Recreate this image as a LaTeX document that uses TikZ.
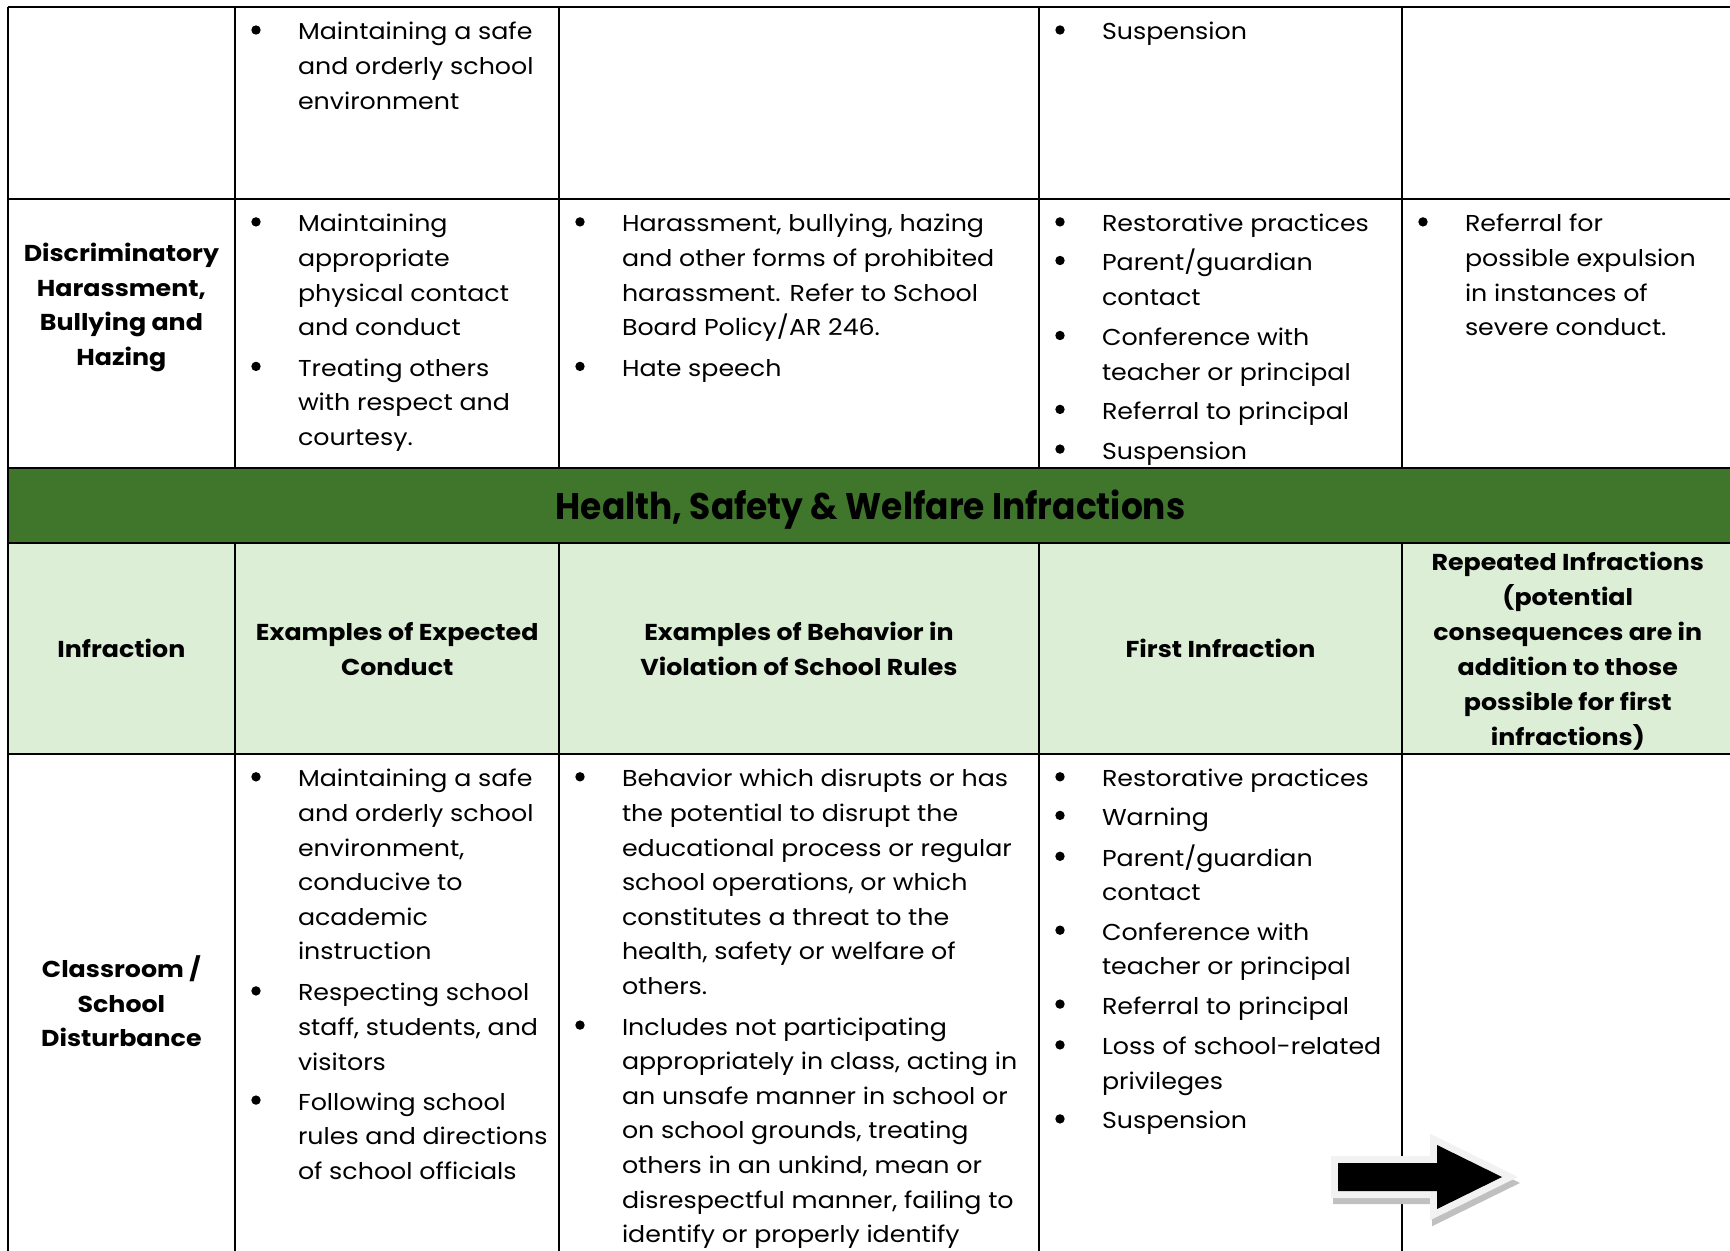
\documentclass[tikz,border=0pt]{standalone}
\usepackage{fontspec}
\setmainfont{Poppins}[FakeStretch=1.1]
\newfontfamily\titlefont{Poppins}[FakeStretch=0.93]
\definecolor{dkgreen}{HTML}{3F762C}
\definecolor{ltgreen}{HTML}{DDEED6}
\definecolor{arrowrim}{HTML}{F2F2F2}
\definecolor{arrowshade}{HTML}{C0C0C0}
\tikzset{
  txt/.style={font=\fontsize{11.5}{17.3}\selectfont, align=left, inner sep=0pt, outer sep=0pt, anchor=north west},
  bld/.style={font=\bfseries\fontsize{11.5}{17.3}\selectfont, align=center, inner sep=0pt, outer sep=0pt, anchor=north},
  hdr/.style={font=\bfseries\fontsize{11.5}{17.5}\selectfont, align=center, inner sep=0pt, outer sep=0pt, anchor=north},
  ttl/.style={font=\titlefont\bfseries\fontsize{18.5}{22}\selectfont, inner sep=0pt, outer sep=0pt, anchor=base},
  gridline/.style={line width=1pt, black},
  heavyline/.style={line width=1.4pt, black},
}
\newcommand{\bitem}[4]{%
  \fill ({#2-42},{#3-10}) circle (4.7);
  \node[txt] (#1) at (#2,{#3-24}) {\rule{0pt}{12pt}#4};}
\begin{document}
\begin{tikzpicture}[x=0.5pt,y=-0.5pt]
\useasboundingbox (0,0) rectangle (1730,1251);
\clip (0,0) rectangle (1730,1251);
\fill[white] (0,0) rectangle (1730,1251);
\fill[dkgreen] (7.7,468) rectangle (1740,543);
\fill[ltgreen] (7.7,543) rectangle (1740,754);
% horizontal lines
\draw[gridline] (7.7,7.5) -- (1740,7.5);
\draw[gridline] (7.7,199) -- (1740,199);
\draw[heavyline] (7.7,468) -- (1740,468);
\draw[heavyline] (7.7,543) -- (1740,543);
\draw[heavyline] (7.7,754) -- (1740,754);
% vertical lines
\draw[gridline] (7.7,7) -- (7.7,1260);
\foreach \cx in {235,559,1039,1402}{
  \draw[gridline] (\cx,7) -- (\cx,468);
  \draw[gridline] (\cx,543) -- (\cx,1260);
}
% row 1
\bitem{r1b}{298}{40}{Maintaining a safe\\and orderly school\\environment}
\bitem{r1d}{1102}{40}{Suspension}
% row 2
\node[bld] (r2a) at (121.4,{261.7-24}) {\rule{0pt}{12pt}Discriminatory\\Harassment,\\Bullying and\\Hazing};
\bitem{r2b1}{298}{231.9}{Maintaining\\appropriate\\physical contact\\and conduct}
\bitem{r2b2}{298}{376.4}{Treating others\\with respect and\\courtesy.}
\bitem{r2c1}{622}{231.9}{Harassment, bullying, hazing\\and other forms of prohibited\\harassment. Refer to School\\Board Policy/AR 246.}
\bitem{r2c2}{622}{376.4}{Hate speech}
\bitem{r2d1}{1102}{231.9}{Restorative practices}
\bitem{r2d2}{1102}{270.5}{Parent/guardian\\contact}
\bitem{r2d3}{1102}{345.5}{Conference with\\teacher or principal}
\bitem{r2d4}{1102}{419.4}{Referral to principal}
\bitem{r2d5}{1102}{459.1}{Suspension}
\bitem{r2e1}{1465}{231.9}{Referral for\\possible expulsion\\in instances of\\severe conduct.}
% green title band
\node[ttl] (title) at (870.5,520) {Health, Safety \& Welfare Infractions};
% header row
\node[hdr] (h1) at (121.4,{657.7-24}) {\rule{0pt}{12pt}Infraction};
\node[hdr] (h2) at (397.2,{640.1-24}) {\rule{0pt}{12pt}Examples of Expected\\Conduct};
\node[hdr] (h3) at (799,{640.1-24}) {\rule{0pt}{12pt}Examples of Behavior in\\Violation of School Rules};
\node[hdr] (h4) at (1220.5,{657.7-24}) {\rule{0pt}{12pt}First Infraction};
\node[hdr] (h5) at (1567.8,{570.6-24}) {\rule{0pt}{12pt}Repeated Infractions\\(potential\\consequences are in\\addition to those\\possible for first\\infractions)};
% row 4
\node[bld] (r4a) at (121.4,{977.7-24}) {\rule{0pt}{12pt}Classroom /\\School\\Disturbance};
\bitem{r4b1}{298}{786.8}{Maintaining a safe\\and orderly school\\environment,\\conducive to\\academic\\instruction}
\bitem{r4b2}{298}{1000.9}{Respecting school\\staff, students, and\\visitors}
\bitem{r4b3}{298}{1110.1}{Following school\\rules and directions\\of school officials}
\bitem{r4c1}{622}{786.8}{Behavior which disrupts or has\\the potential to disrupt the\\educational process or regular\\school operations, or which\\constitutes a threat to the\\health, safety or welfare of\\others.}
\bitem{r4c2}{622}{1035.1}{Includes not participating\\appropriately in class, acting in\\an unsafe manner in school or\\on school grounds, treating\\others in an unkind, mean or\\disrespectful manner, failing to\\identify or properly identify}
\bitem{r4d1}{1102}{786.8}{Restorative practices}
\bitem{r4d2}{1102}{825.4}{Warning}
\bitem{r4d3}{1102}{866.3}{Parent/guardian\\contact}
\bitem{r4d4}{1102}{940.2}{Conference with\\teacher or principal}
\bitem{r4d5}{1102}{1014.1}{Referral to principal}
\bitem{r4d6}{1102}{1054.9}{Loss of school-related\\privileges}
\bitem{r4d7}{1102}{1128.9}{Suspension}
% block arrow
\fill[arrowshade, draw=arrowshade, line width=7pt, line join=miter, shift={(2,6)}]
  (1338,1163) -- (1437,1163) -- (1437,1145) -- (1502,1177) -- (1437,1209) -- (1437,1191) -- (1338,1191) -- cycle;
\filldraw[fill=black, draw=arrowrim, line width=7pt, line join=miter]
  (1338,1163) -- (1437,1163) -- (1437,1145) -- (1502,1177) -- (1437,1209) -- (1437,1191) -- (1338,1191) -- cycle;
\fill[black] (1338,1163) -- (1437,1163) -- (1437,1145) -- (1502,1177) -- (1437,1209) -- (1437,1191) -- (1338,1191) -- cycle;
\end{tikzpicture}
\end{document}
